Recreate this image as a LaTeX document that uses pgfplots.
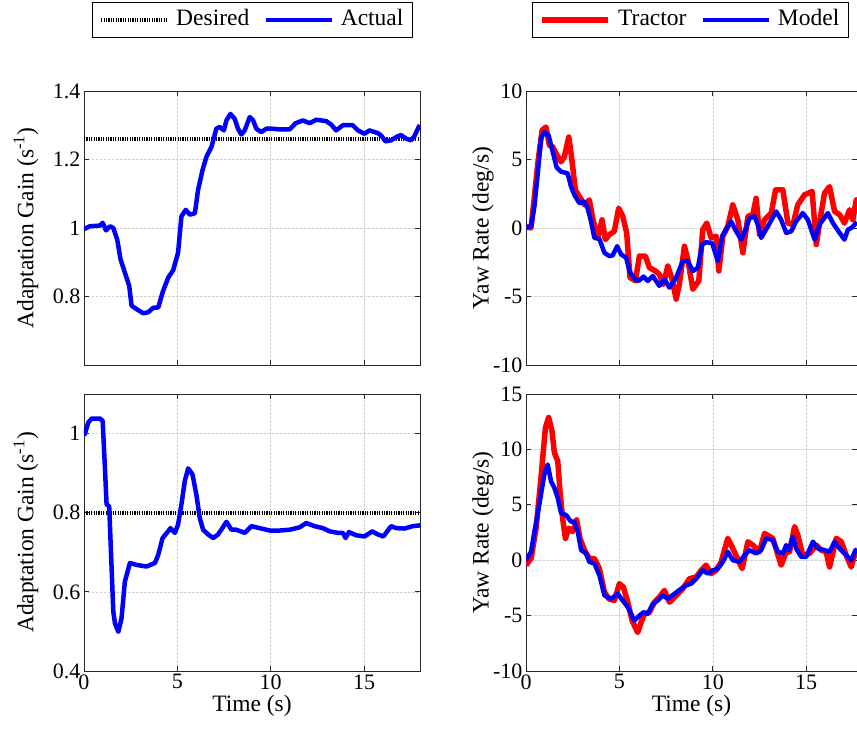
\documentclass[border=0pt]{standalone}
\usepackage{pgfplots}
\pgfplotsset{compat=1.18}
\usepackage{fontspec}
\setmainfont{Liberation Serif}
\definecolor{gridc}{RGB}{210,210,210}
\definecolor{axc}{RGB}{40,40,40}
\pgfplotsset{
 base/.style={
  scale only axis, anchor=south west,
  xmin=0,
  tick align=inside, major tick length=5pt,
  xtick={0,5,10,15},
  grid=major,
  major grid style={gridc, dash pattern=on 2.5pt off 1.5pt, line width=0.5pt},
  axis line style={line width=0.9pt, axc},
  tick style={line width=0.9pt, axc},
  /pgf/number format/assume math mode=true,
  tick label style={font=\fontsize{22}{24}\selectfont},
  label style={font=\fontsize{23.5}{26}\selectfont},
  xlabel style={at={(axis description cs:0.5,0)}, anchor=center, yshift=-35pt},
  legend columns=2,
  legend style={font=\fontsize{23.5}{26}\selectfont, draw=black, line width=0.9pt,
    anchor=center, inner xsep=7pt, inner ysep=5pt,
    nodes={inner sep=2pt, text height=16pt, text depth=5pt},
    /tikz/every odd column/.append style={column sep=5pt},
    /tikz/every even column/.append style={column sep=12pt}},
  legend image code/.code={\draw[#1] (0pt,0pt) -- (66pt,0pt);},
 },
 desired/.style={black, line width=4pt, dash pattern=on 1.2pt off 1.2pt},
 actual/.style={blue, line width=4.5pt, line join=round},
 tractor/.style={red, line width=5.5pt, line join=round},
}
\begin{document}
\begin{tikzpicture}[x=1pt,y=1pt]
\useasboundingbox (0,0) rectangle (857,738);
% ---------------- top left ----------------
\begin{axis}[base, at={(84pt,373pt)}, width=336pt, height=274pt,
  xmax=18, ymin=0.6, ymax=1.4, ytick={0.8,1,1.2,1.4}, xticklabels={},
  ylabel={Adaptation Gain (s\textsuperscript{-1})},
  ylabel style={at={(axis description cs:-0.173,0.5)}, anchor=center},
  legend style={at={(axis description cs:0.501,1.259)}}]
\addplot[desired] coordinates {(0,1.26) (18,1.26)};
\addlegendentry{Desired}
\addplot[actual] coordinates {
(0,0.997)(0.32,1.005)(0.86,1.007)(1.0,1.015)(1.18,0.993)(1.39,1.005)(1.57,1.0)
(1.78,0.966)(1.96,0.908)(2.28,0.855)(2.42,0.831)(2.55,0.773)(2.82,0.763)(3.17,0.751)
(3.44,0.754)(3.71,0.767)(3.98,0.768)(4.21,0.812)(4.51,0.855)(4.78,0.877)(5.04,0.928)
(5.22,1.034)(5.45,1.053)(5.67,1.039)(5.94,1.043)(6.11,1.111)(6.35,1.169)(6.56,1.208)
(6.83,1.237)(7.09,1.290)(7.27,1.295)(7.49,1.285)(7.63,1.314)(7.84,1.333)(8.07,1.319)
(8.25,1.290)(8.43,1.273)(8.61,1.285)(8.88,1.324)(9.06,1.314)(9.23,1.290)(9.5,1.280)
(9.77,1.290)(10.03,1.290)(10.48,1.288)(11.02,1.288)(11.34,1.306)(11.73,1.314)
(12.09,1.306)(12.44,1.316)(12.98,1.312)(13.24,1.302)(13.51,1.285)(13.87,1.300)
(14.4,1.300)(14.67,1.285)(15.03,1.275)(15.29,1.285)(15.74,1.277)(15.92,1.270)
(16.15,1.253)(16.45,1.256)(16.81,1.268)(16.99,1.271)(17.25,1.261)(17.52,1.256)
(17.7,1.268)(17.93,1.295)(18,1.30)};
\addlegendentry{Actual}
\end{axis}
% ---------------- top right ----------------
\begin{axis}[base, at={(526pt,373pt)}, width=331pt, height=274pt,
  xmax=17.72, ymin=-10, ymax=10, ytick={-10,-5,0,5,10}, xticklabels={},
  ylabel={Yaw Rate (deg/s)},
  ylabel style={at={(axis description cs:-0.13,0.5)}, anchor=center},
  legend style={at={(axis description cs:0.497,1.259)}}]
\addplot[tractor] coordinates {
(0,0.12)(0.27,0)(0.45,2.29)(0.63,4.71)(0.86,7.13)(1.07,7.37)(1.25,6.04)(1.43,5.92)
(1.61,5.43)(1.88,4.83)(2.05,5.19)(2.29,6.64)(2.46,4.95)(2.64,2.78)(2.86,2.29)
(3.13,1.69)(3.39,2.05)(3.57,0.72)(3.84,-0.72)(4.07,0.60)(4.25,-0.85)(4.46,-0.48)
(4.73,-0.24)(4.96,1.45)(5.18,0.85)(5.39,-0.36)(5.57,-3.62)(5.86,-3.86)(6.07,-2.05)
(6.39,-2.05)(6.61,-2.90)(6.93,-3.14)(7.14,-3.38)(7.36,-4.11)(7.59,-2.78)(7.82,-3.74)
(8.04,-5.19)(8.21,-4.11)(8.48,-1.33)(8.66,-2.29)(8.93,-4.47)(9.25,-3.86)(9.46,-0.12)
(9.68,0.36)(9.91,-0.72)(10.18,-0.60)(10.32,-3.14)(10.54,-0.60)(10.80,0.12)(11.07,1.69)
(11.34,0.60)(11.61,-1.81)(11.88,0.85)(12.14,0.97)(12.32,2.17)(12.50,-0.48)(12.77,0.60)
(13.13,1.09)(13.36,2.78)(13.75,2.78)(14.02,0.36)(14.29,0.24)(14.55,1.69)(14.91,2.42)
(15.32,2.66)(15.54,-1.21)(15.80,1.09)(15.98,2.54)(16.25,3.02)(16.52,1.21)(16.79,0.97)
(17.05,0.36)(17.32,1.33)(17.50,0.60)(17.68,2.05)(17.72,1.8)};
\addlegendentry{Tractor}
\addplot[actual] coordinates {
(0,0)(0.27,0.12)(0.45,1.57)(0.63,3.99)(0.80,6.52)(0.98,7.0)(1.21,6.76)(1.43,5.56)
(1.64,4.42)(1.88,4.11)(2.23,3.99)(2.41,3.02)(2.59,2.42)(2.86,1.81)(3.13,1.93)
(3.30,1.45)(3.48,0.48)(3.66,-0.72)(3.93,-0.80)(4.20,-1.81)(4.46,-2.05)(4.64,-2.0)
(4.88,-1.33)(5.09,-1.93)(5.36,-2.17)(5.54,-3.14)(5.80,-3.70)(6.04,-3.86)(6.29,-3.55)
(6.52,-3.86)(6.79,-3.50)(7.14,-4.23)(7.41,-3.74)(7.68,-4.35)(8.04,-3.62)(8.39,-2.42)
(8.66,-2.42)(8.93,-3.14)(9.2,-2.90)(9.43,-1.21)(9.64,-1.04)(9.96,-1.09)(10.27,-2.42)
(10.5,-0.60)(10.71,-0.12)(10.98,0.48)(11.25,-0.24)(11.52,-0.85)(11.79,0)(11.96,0.72)
(12.23,0.85)(12.41,0.24)(12.59,-0.72)(12.95,0.12)(13.39,1.21)(13.66,0.60)(13.93,-0.36)
(14.2,-0.24)(14.46,0.48)(14.82,1.09)(15.09,0.60)(15.45,-0.85)(15.71,0.24)(16.16,1.09)
(16.43,0.36)(16.79,-0.36)(17.05,-0.85)(17.23,-0.12)(17.41,0)(17.68,0.36)(17.72,0.4)};
\addlegendentry{Model}
\end{axis}
% ---------------- bottom left ----------------
\begin{axis}[base, at={(84pt,67pt)}, width=336pt, height=277pt,
  xmax=18, ymin=0.4, ymax=1.1, ytick={0.4,0.6,0.8,1},
  xlabel={Time (s)},
  ylabel={Adaptation Gain (s\textsuperscript{-1})},
  ylabel style={at={(axis description cs:-0.173,0.5)}, anchor=center}]
\addplot[desired] coordinates {(0,0.80) (18,0.80)};
\addplot[actual] coordinates {
(0,0.995)(0.05,1.0)(0.23,1.028)(0.41,1.038)(0.86,1.038)(1.0,1.032)(1.12,0.914)
(1.21,0.821)(1.35,0.816)(1.43,0.719)(1.57,0.55)(1.66,0.520)(1.84,0.499)(2.01,0.533)
(2.19,0.626)(2.46,0.673)(2.82,0.668)(3.35,0.664)(3.80,0.673)(3.98,0.694)(4.21,0.736)
(4.51,0.753)(4.63,0.761)(4.87,0.749)(5.04,0.770)(5.22,0.821)(5.40,0.880)(5.58,0.912)
(5.81,0.897)(6.02,0.846)(6.20,0.787)(6.38,0.757)(6.65,0.745)(6.92,0.736)(7.18,0.745)
(7.41,0.761)(7.63,0.777)(7.90,0.757)(8.16,0.757)(8.61,0.749)(8.97,0.766)(9.41,0.761)
(9.95,0.755)(10.48,0.755)(11.02,0.757)(11.55,0.763)(11.91,0.774)(12.35,0.766)
(12.80,0.761)(13.16,0.753)(13.60,0.749)(13.87,0.749)(14.01,0.736)(14.19,0.751)
(14.58,0.743)(15.03,0.740)(15.44,0.753)(15.74,0.745)(16.04,0.740)(16.45,0.766)
(16.72,0.761)(17.17,0.760)(17.61,0.766)(18,0.768)};
\end{axis}
% ---------------- bottom right ----------------
\begin{axis}[base, at={(526pt,67pt)}, width=331pt, height=277pt,
  xmax=17.72, ymin=-10, ymax=15, ytick={-10,-5,0,5,10,15},
  xlabel={Time (s)},
  ylabel={Yaw Rate (deg/s)},
  ylabel style={at={(axis description cs:-0.13,0.5)}, anchor=center}]
\addplot[tractor] coordinates {
(0,-0.45)(0.27,0.15)(0.54,2.88)(0.80,7.42)(1.04,11.97)(1.21,12.88)(1.39,11.67)
(1.52,9.70)(1.70,8.94)(1.82,6.21)(1.96,3.79)(2.11,1.97)(2.29,2.88)(2.50,2.58)
(2.71,3.64)(2.89,1.97)(3.13,0.91)(3.39,0.15)(3.66,0.15)(3.93,-0.76)(4.20,-2.88)
(4.43,-3.48)(4.73,-3.64)(5.0,-2.12)(5.21,-2.42)(5.45,-3.79)(5.68,-5.45)(5.98,-6.52)
(6.16,-5.61)(6.34,-4.85)(6.61,-4.70)(6.88,-3.79)(7.14,-3.33)(7.41,-2.73)(7.68,-3.79)
(8.04,-3.18)(8.39,-2.58)(8.75,-1.67)(9.11,-1.52)(9.38,-0.91)(9.64,-0.45)(9.91,-1.21)
(10.18,-0.91)(10.45,-0.15)(10.80,1.97)(11.07,1.06)(11.57,-0.76)(11.88,1.67)(12.14,1.36)
(12.50,0.76)(12.77,2.42)(13.21,1.97)(13.66,-0.45)(13.93,0.76)(14.11,0.76)(14.38,3.03)
(14.55,2.27)(14.82,0.45)(15.18,0.61)(15.54,1.36)(15.80,0.91)(16.07,0.76)(16.25,-0.61)
(16.61,1.97)(16.88,1.67)(17.14,0.45)(17.41,-0.61)(17.64,0.76)(17.72,0.9)};
\addplot[actual] coordinates {
(0,0)(0.27,0.76)(0.45,2.58)(0.71,5.0)(0.98,7.73)(1.16,8.64)(1.34,7.12)(1.52,6.52)
(1.70,5.61)(1.88,4.24)(2.14,4.09)(2.41,3.48)(2.59,3.48)(2.77,2.58)(2.95,0.91)
(3.21,0.61)(3.39,-0.15)(3.66,-0.30)(3.93,-1.36)(4.20,-3.18)(4.55,-3.48)(4.91,-3.03)
(5.18,-3.64)(5.45,-4.24)(5.80,-5.45)(6.07,-5.0)(6.29,-4.70)(6.52,-4.85)(6.79,-3.94)
(7.05,-3.64)(7.32,-3.18)(7.59,-3.48)(7.95,-3.03)(8.30,-2.58)(8.57,-2.27)(8.84,-2.12)
(9.11,-1.67)(9.46,-0.91)(9.73,-1.21)(10.0,-0.91)(10.27,-0.76)(10.54,-0.15)(10.80,0.76)
(11.07,0)(11.43,-0.15)(11.70,0.45)(11.96,0.91)(12.32,0.61)(12.59,0.91)(12.86,1.97)
(13.21,1.82)(13.48,0.76)(13.75,0.61)(13.93,1.36)(14.07,0.91)(14.29,2.12)(14.46,1.06)
(14.73,0.30)(15.0,0.30)(15.36,1.67)(15.63,1.06)(15.98,0.91)(16.25,0.76)(16.52,1.67)
(16.79,1.06)(17.14,0.45)(17.41,0)(17.64,0.91)(17.72,0.95)};
\end{axis}
\end{tikzpicture}
\end{document}
